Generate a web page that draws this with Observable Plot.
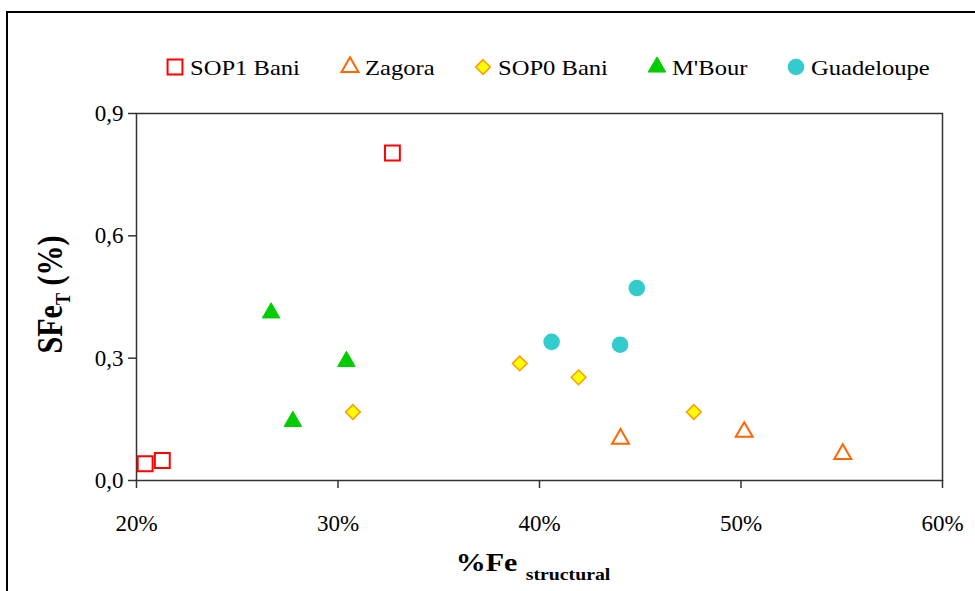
<!DOCTYPE html>
<html><head><meta charset="utf-8">
<script src="https://cdn.jsdelivr.net/npm/d3@7"></script>
<script src="https://cdn.jsdelivr.net/npm/@observablehq/plot@0.6"></script>
<style>
html,body{margin:0;padding:0;background:#fff;overflow:hidden;width:975px;height:591px;font-family:"Liberation Serif",serif}
#chart{position:absolute;left:0;top:0}
#chart svg, #chart svg text, #chart svg tspan{font-family:"Liberation Serif",serif !important}
#frame{position:absolute;left:6px;top:11px;width:1000px;height:700px;border:2px solid #000;box-sizing:border-box;pointer-events:none}
</style></head><body>
<div id="chart"></div><div id="frame"></div>
<script>
// ---- data ----
const seriesNames = ["SOP1 Bani", "Zagora", "SOP0 Bani", "M'Bour", "Guadeloupe"];
const sop1BaniX = [0.2043, 0.2128, 0.327];
const sop1BaniY = [0.041, 0.049, 0.803];
const zagoraX = [0.4402, 0.5016, 0.5505];
const zagoraY = [0.102, 0.119, 0.065];
const sop0BaniX = [0.3074, 0.3902, 0.4194, 0.4766];
const sop0BaniY = [0.168, 0.287, 0.253, 0.168];
const mbourX = [0.2668, 0.3042, 0.2776];
const mbourY = [0.411, 0.292, 0.145];
const guadeloupeX = [0.406, 0.440, 0.4483];
const guadeloupeY = [0.340, 0.333, 0.472];
const xTicks = [0.2, 0.3, 0.4, 0.5, 0.6];
const yTicks = [0, 0.3, 0.6, 0.9];

const seriesX = [sop1BaniX, zagoraX, sop0BaniX, mbourX, guadeloupeX];
const seriesY = [sop1BaniY, zagoraY, sop0BaniY, mbourY, guadeloupeY];

// ---- styles ----
const styles = {
  "SOP1 Bani": {symbol: "square", fill: "none", stroke: "#ff0000", strokeWidth: 2, r: 8.4},
  "Zagora": {symbol: "triangle", fill: "none", stroke: "#ff6600", strokeWidth: 2, r: 6.3},
  "SOP0 Bani": {symbol: "diamond2", fill: "#ffff00", stroke: "#ff9900", strokeWidth: 1.5, r: 6.6},
  "M'Bour": {symbol: "triangle", fill: "#00cc00", stroke: "#00cc00", strokeWidth: 1, r: 6.5},
  "Guadeloupe": {symbol: "circle", fill: "#33cccc", stroke: "none", strokeWidth: 0, r: 8.3}
};

const rows = seriesNames.flatMap((s, i) => seriesX[i].map((x, j) => ({series: s, x, y: seriesY[i][j]})));

const FONT = "Liberation Serif";

const plot = Plot.plot({
  width: 975, height: 591,
  marginLeft: 136, marginRight: 33, marginTop: 113, marginBottom: 111,
  style: {fontFamily: FONT, fontSize: "23px", color: "#000", background: "#fff", overflow: "visible"},
  x: {domain: [0.2, 0.6]},
  y: {domain: [0, 0.9]},
  marks: [
    Plot.axisX({ticks: xTicks, tickFormat: d => Math.round(d * 100) + "%", tickSize: 8, tickPadding: 26, label: null, stroke: "#333", strokeWidth: 1.5, fill: "#000", fontFamily: FONT}),
    Plot.axisY({ticks: yTicks, tickFormat: d => d.toFixed(1).replace(".", ","), tickSize: 8, tickPadding: 5, label: null, stroke: "#333", strokeWidth: 1.5, fill: "#000", fontFamily: FONT}),
    Plot.frame({stroke: "#333", strokeWidth: 1.5}),
    ...seriesNames.map(s => {
      const st = styles[s];
      return Plot.dot(rows.filter(d => d.series === s), {
        x: "x", y: "y", symbol: () => st.symbol, r: st.r,
        fill: st.fill, stroke: st.stroke, strokeWidth: st.strokeWidth
      });
    })
  ]
});
document.getElementById("chart").appendChild(plot);

const svg = d3.select(plot);
const xs = plot.scale("x"), ys = plot.scale("y");

// x axis label
const xl = svg.append("text")
  .attr("transform", `translate(${xs.apply(0.4) - 6},571) scale(1.2,1)`)
  .attr("text-anchor", "middle").attr("font-family", FONT).attr("font-weight", "bold").attr("fill", "#000");
xl.append("tspan").attr("font-size", 25).text("%Fe");
xl.append("tspan").attr("font-size", 16.5).attr("dx", 7).attr("dy", 9).text("structural");

// y axis label
const yl = svg.append("text")
  .attr("transform", `translate(62,${ys.apply(0.45) - 2}) scale(1.2,1) rotate(-90)`)
  .attr("text-anchor", "middle").attr("font-family", FONT).attr("font-weight", "bold").attr("fill", "#000");
yl.append("tspan").attr("font-size", 30).text("SFe");
yl.append("tspan").attr("font-size", 18).attr("dy", 7).text("T");
yl.append("tspan").attr("font-size", 30).attr("dy", -7).text("\u00a0(%)");

// legend
const symMap = {square: d3.symbolSquare, triangle: d3.symbolTriangle, diamond2: d3.symbolDiamond2, circle: d3.symbolCircle};
const legendCx = [175, 350, 483, 657, 796];
seriesNames.forEach((s, i) => {
  const st = styles[s];
  const g = svg.append("g");
  g.append("path")
    .attr("d", d3.symbol(symMap[st.symbol], st.r * st.r * Math.PI)())
    .attr("transform", `translate(${legendCx[i]},67)`)
    .attr("fill", st.fill).attr("stroke", st.stroke).attr("stroke-width", st.strokeWidth);
  g.append("text")
    .attr("transform", `translate(${legendCx[i] + 15},75) scale(1.2,1)`)
    .attr("text-anchor", "start")
    .attr("font-family", FONT).attr("font-size", 20.5).attr("fill", "#000")
    .text(s);
});
</script>
</body></html>
